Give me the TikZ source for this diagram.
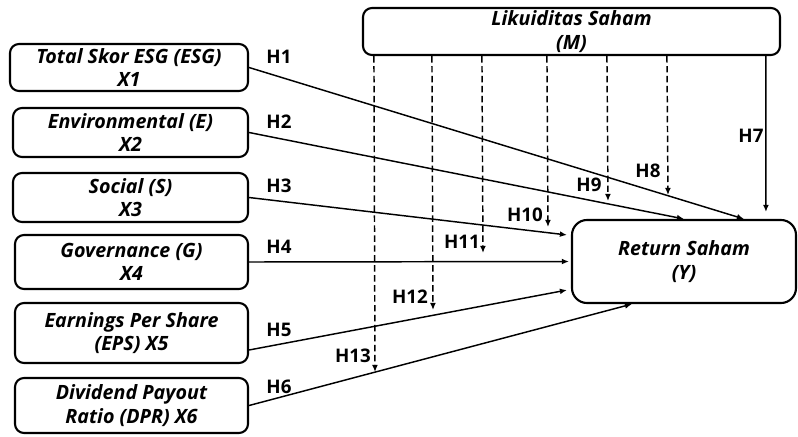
\documentclass[tikz,border=0pt]{standalone}
\usepackage{fontspec}
\setmainfont{Open Sans}
\usetikzlibrary{arrows.meta,calc}

\begin{document}
\begin{tikzpicture}[x=0.03cm,y=-0.03cm,
  box/.style={draw,line width=1.8pt,rounded corners=0.27cm,inner sep=0pt,
    align=center,font=\bfseries\itshape\fontsize{16.8}{20}\selectfont},
  hlab/.style={font=\bfseries\fontsize{16}{18}\selectfont,inner sep=0pt},
  arr/.style={-{Latex[length=6pt,width=5pt]},line width=1.25pt},
  darr/.style={arr,dash pattern=on 5.5pt off 3pt}]
\useasboundingbox (0,0) rectangle (798,436);

% independent variables
\node[box,minimum width=7.14cm,minimum height=1.41cm] (e1) at (129,67.5) {Total Skor ESG (ESG)\\X1};
\node[box,minimum width=7.05cm,minimum height=1.47cm] (e2) at (130.5,132.5) {Environmental (E)\\X2};
\node[box,minimum width=7.05cm,minimum height=1.47cm] (e3) at (130.5,197.5) {Social (S)\\X3};
\node[box,minimum width=6.99cm,minimum height=1.62cm] (e4) at (131.5,262) {Governance (G)\\X4};
\node[box,minimum width=6.99cm,minimum height=1.80cm] (e5) at (131.5,333) {Earnings Per Share\\(EPS) X5};
\node[box,minimum width=6.99cm,minimum height=1.65cm] (e6) at (131.5,405.5) {Dividend Payout\\Ratio (DPR) X6};

% moderator and dependent variable
\node[box,minimum width=12.51cm,minimum height=1.41cm] (m) at (571.5,31.5) {Likuiditas Saham\\(M)};
\node[box,rounded corners=0.45cm,minimum width=6.72cm,minimum height=2.49cm] (y) at (684,261.5) {Return Saham\\(Y)};

% end points on the dependent variable
\coordinate (t1) at ($(y.north west)+(173,0)$);
\coordinate (t2) at ($(y.north west)+(113,0)$);
\coordinate (t3) at ($(y.north west)+(-4,16)$);
\coordinate (t4) at ($(y.west)+(-2,0)$);
\coordinate (t5) at ($(y.south west)+(-4,-14)$);
\coordinate (t6) at ($(y.south west)+(61,0)$);

% direct effects
\draw[arr] (e1.east) -- (t1);
\draw[arr] (e2.east) -- (t2);
\draw[arr] (e3.east) -- (t3);
\draw[arr] (e4.east) -- (t4);
\draw[arr] ($(e5.east)+(0,17)$) -- (t5);
\draw[arr] (e6.east) -- (t6);
\draw[arr] ($(m.south west)+(404,0)$) -- ($(y.north west)+(195,-7)$);

% moderating effects
\coordinate (d8) at (668,195);
\coordinate (d9) at (608,201);
\coordinate (d10) at (548,227);
\coordinate (d11) at (483,253);
\coordinate (d12) at (433,310);
\coordinate (d13) at (375,372);
\foreach \k/\dx in {8/305,9/245,10/185,11/120,12/70,13/12}
  \draw[darr] ($(m.south west)+(\dx,0)$) -- (d\k);

% labels
\node[hlab] (h1) at (279,57) {H1};
\node[hlab] (h2) at (279,122) {H2};
\node[hlab] (h3) at (279,186) {H3};
\node[hlab] (h4) at (279,247) {H4};
\node[hlab] (h5) at (279,330) {H5};
\node[hlab] (h6) at (279,387) {H6};
\node[hlab] (h7) at (751,136) {H7};
\node[hlab] (h8) at (648,171) {H8};
\node[hlab] (h9) at (589,185) {H9};
\node[hlab] (h10) at (525,215) {H10};
\node[hlab] (h11) at (462,242) {H11};
\node[hlab] (h12) at (410,297) {H12};
\node[hlab] (h13) at (353,356) {H13};
\end{tikzpicture}
\end{document}
